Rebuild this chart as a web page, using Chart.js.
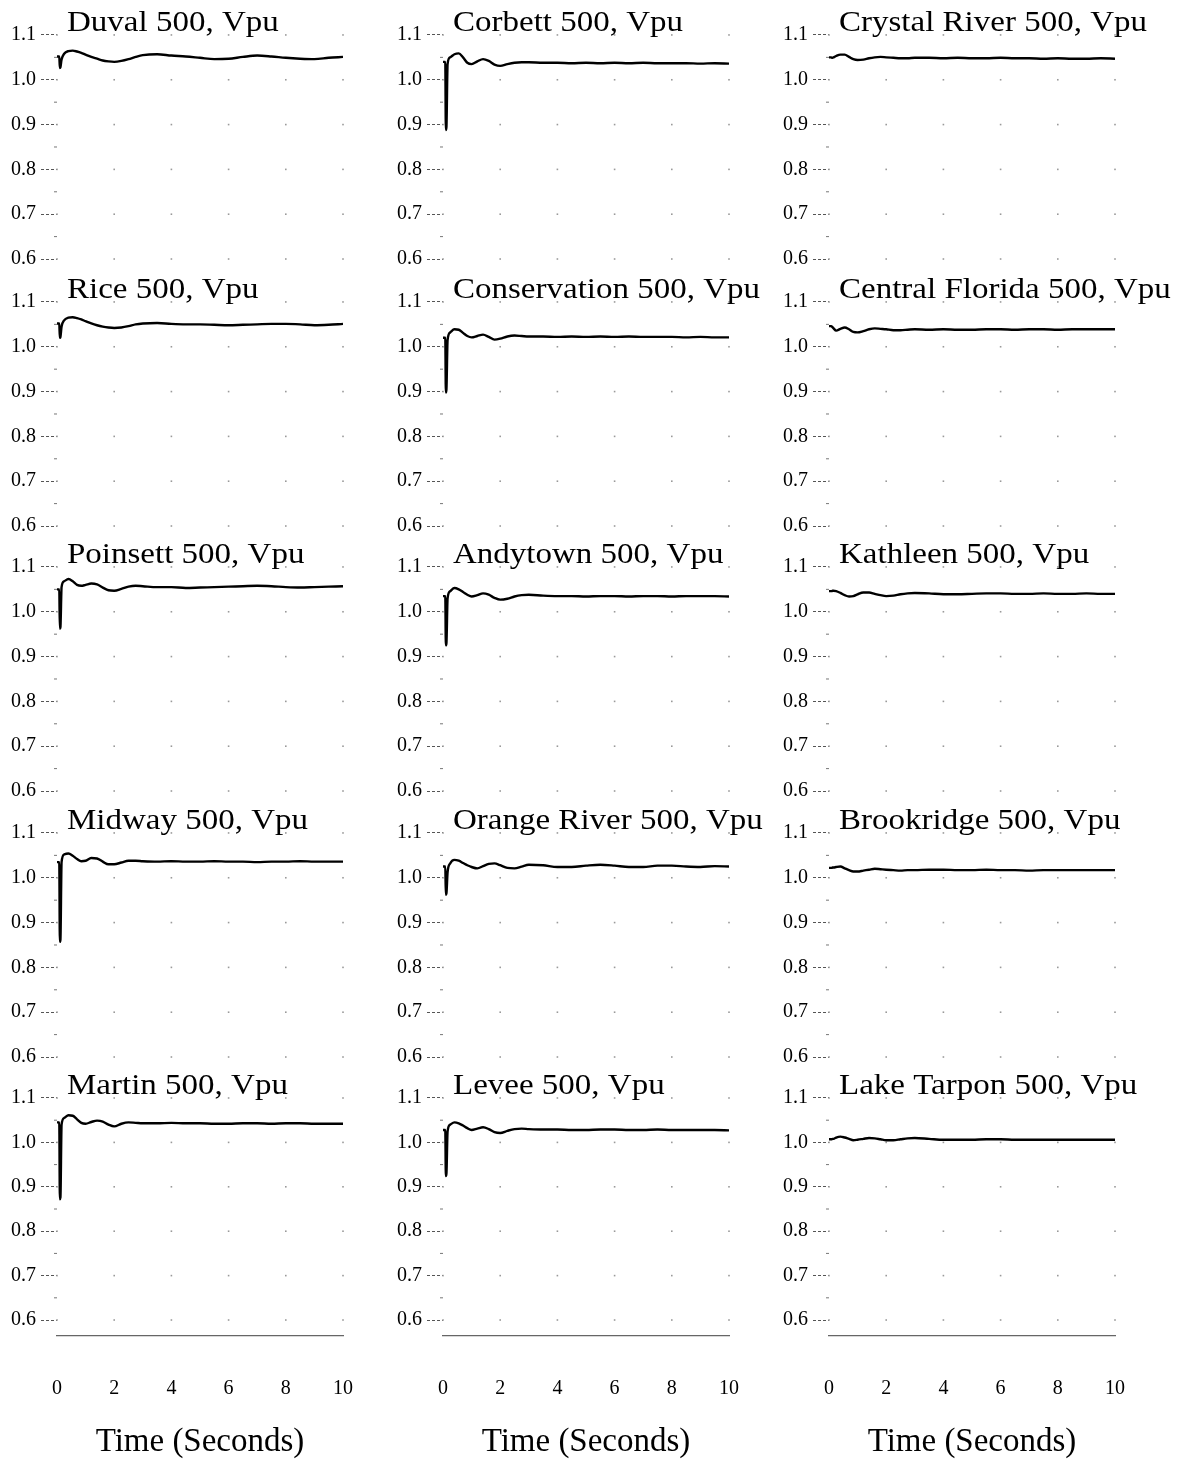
<!DOCTYPE html>
<html>
<head>
<meta charset="utf-8">
<title>500 kV bus voltages</title>
<script src="https://cdn.jsdelivr.net/npm/chart.js@4.4.0/dist/chart.umd.min.js"></script>
<style>
    body { margin: 0; background: #fff; }
    #page { position: relative; width: 1185px; height: 1459px; overflow: hidden; background: #fff; }
    .panel { position: absolute; }
</style>
</head>
<body>
<div id="page"></div>
<script>
// sample times (s), shared by every station trace
var timeSeconds = [0, 0.08, 0.1, 0.12, 0.16, 0.25, 0.4, 0.55, 0.7, 0.85, 1.0, 1.2, 1.4, 1.6, 1.8, 2.0, 2.25, 2.5, 2.75, 3.0, 3.5, 4.0, 4.5, 5.0, 5.5, 6.0, 6.5, 7.0, 7.5, 8.0, 8.5, 9.0, 9.5, 10];

var yTickValues = [0.6, 0.7, 0.8, 0.9, 1.0, 1.1];
var yMinorValues = [0.65, 0.75, 0.85, 0.95, 1.05];
var xTickValues = [0, 2, 4, 6, 8, 10];

var stationNames = [
    'Duval 500, Vpu', 'Corbett 500, Vpu', 'Crystal River 500, Vpu',
    'Rice 500, Vpu', 'Conservation 500, Vpu', 'Central Florida 500, Vpu',
    'Poinsett 500, Vpu', 'Andytown 500, Vpu', 'Kathleen 500, Vpu',
    'Midway 500, Vpu', 'Orange River 500, Vpu', 'Brookridge 500, Vpu',
    'Martin 500, Vpu', 'Levee 500, Vpu', 'Lake Tarpon 500, Vpu'
];

// voltage (pu) at each of timeSeconds
var duval = [1.052, 1.052, 1.026, 1.028, 1.045, 1.058, 1.064, 1.065, 1.063, 1.060, 1.056, 1.051, 1.047, 1.043, 1.041, 1.040, 1.042, 1.046, 1.051, 1.055, 1.057, 1.054, 1.052, 1.049, 1.046, 1.047, 1.051, 1.054, 1.052, 1.049, 1.047, 1.046, 1.049, 1.051];
var corbett = [1.040, 1.040, 0.888, 0.895, 1.035, 1.050, 1.057, 1.059, 1.050, 1.038, 1.035, 1.041, 1.046, 1.042, 1.034, 1.031, 1.035, 1.038, 1.039, 1.039, 1.038, 1.038, 1.037, 1.038, 1.037, 1.038, 1.037, 1.038, 1.037, 1.037, 1.037, 1.036, 1.037, 1.036];
var crystalRiver = [1.050, 1.050, 1.049, 1.049, 1.050, 1.053, 1.056, 1.056, 1.051, 1.046, 1.044, 1.045, 1.048, 1.050, 1.051, 1.050, 1.049, 1.048, 1.048, 1.049, 1.049, 1.048, 1.049, 1.048, 1.048, 1.049, 1.048, 1.048, 1.047, 1.048, 1.047, 1.047, 1.048, 1.047];
var rice = [1.052, 1.052, 1.020, 1.022, 1.045, 1.059, 1.065, 1.066, 1.064, 1.061, 1.057, 1.052, 1.048, 1.045, 1.043, 1.042, 1.043, 1.046, 1.050, 1.052, 1.053, 1.051, 1.050, 1.050, 1.049, 1.048, 1.049, 1.050, 1.051, 1.051, 1.050, 1.048, 1.049, 1.051];
var conservation = [1.020, 1.020, 0.898, 0.905, 1.015, 1.032, 1.039, 1.038, 1.031, 1.024, 1.021, 1.024, 1.027, 1.022, 1.016, 1.018, 1.023, 1.025, 1.024, 1.023, 1.023, 1.022, 1.023, 1.022, 1.023, 1.022, 1.023, 1.022, 1.022, 1.022, 1.021, 1.022, 1.021, 1.021];
var centralFlorida = [1.046, 1.046, 1.045, 1.044, 1.041, 1.036, 1.040, 1.043, 1.039, 1.033, 1.032, 1.035, 1.039, 1.041, 1.040, 1.039, 1.037, 1.037, 1.038, 1.039, 1.038, 1.039, 1.038, 1.038, 1.039, 1.039, 1.038, 1.039, 1.039, 1.038, 1.039, 1.039, 1.039, 1.039];
var poinsett = [1.050, 1.050, 0.962, 0.966, 1.055, 1.068, 1.073, 1.068, 1.060, 1.058, 1.060, 1.063, 1.061, 1.054, 1.048, 1.047, 1.051, 1.056, 1.058, 1.057, 1.055, 1.055, 1.053, 1.054, 1.055, 1.056, 1.057, 1.058, 1.057, 1.055, 1.054, 1.055, 1.056, 1.057];
var andytown = [1.035, 1.035, 0.925, 0.930, 1.030, 1.046, 1.053, 1.050, 1.044, 1.038, 1.034, 1.037, 1.041, 1.038, 1.031, 1.027, 1.029, 1.034, 1.037, 1.038, 1.036, 1.035, 1.035, 1.034, 1.035, 1.035, 1.034, 1.035, 1.035, 1.034, 1.035, 1.035, 1.035, 1.034];
var kathleen = [1.046, 1.046, 1.046, 1.047, 1.047, 1.046, 1.042, 1.037, 1.034, 1.035, 1.039, 1.043, 1.043, 1.040, 1.037, 1.035, 1.036, 1.039, 1.041, 1.042, 1.041, 1.039, 1.039, 1.040, 1.041, 1.041, 1.040, 1.040, 1.041, 1.040, 1.040, 1.041, 1.040, 1.040];
var midway = [1.035, 1.035, 0.857, 0.862, 1.035, 1.052, 1.054, 1.049, 1.042, 1.037, 1.038, 1.044, 1.043, 1.036, 1.030, 1.030, 1.034, 1.038, 1.038, 1.037, 1.036, 1.037, 1.036, 1.036, 1.037, 1.036, 1.036, 1.035, 1.036, 1.036, 1.037, 1.036, 1.036, 1.036];
var orangeRiver = [1.025, 1.025, 0.962, 0.965, 1.012, 1.032, 1.040, 1.038, 1.033, 1.028, 1.024, 1.021, 1.026, 1.031, 1.032, 1.028, 1.022, 1.021, 1.025, 1.029, 1.028, 1.024, 1.024, 1.027, 1.029, 1.027, 1.024, 1.024, 1.027, 1.027, 1.025, 1.024, 1.026, 1.025];
var brookridge = [1.022, 1.022, 1.022, 1.023, 1.023, 1.024, 1.025, 1.021, 1.017, 1.014, 1.014, 1.016, 1.018, 1.020, 1.019, 1.018, 1.017, 1.016, 1.017, 1.017, 1.018, 1.018, 1.017, 1.017, 1.018, 1.017, 1.017, 1.016, 1.017, 1.017, 1.017, 1.017, 1.017, 1.017];
var martin = [1.045, 1.045, 0.872, 0.876, 1.040, 1.055, 1.061, 1.060, 1.052, 1.044, 1.042, 1.046, 1.049, 1.047, 1.040, 1.036, 1.042, 1.045, 1.044, 1.043, 1.043, 1.044, 1.043, 1.043, 1.042, 1.042, 1.043, 1.043, 1.042, 1.043, 1.043, 1.042, 1.042, 1.042];
var levee = [1.028, 1.028, 0.924, 0.930, 1.025, 1.040, 1.045, 1.043, 1.038, 1.032, 1.028, 1.031, 1.034, 1.030, 1.023, 1.021, 1.026, 1.030, 1.031, 1.030, 1.029, 1.029, 1.028, 1.028, 1.029, 1.029, 1.028, 1.028, 1.029, 1.028, 1.028, 1.028, 1.028, 1.027];
var lakeTarpon = [1.007, 1.007, 1.007, 1.008, 1.008, 1.011, 1.013, 1.011, 1.008, 1.005, 1.006, 1.008, 1.010, 1.009, 1.007, 1.005, 1.005, 1.007, 1.009, 1.010, 1.008, 1.006, 1.006, 1.006, 1.007, 1.007, 1.006, 1.006, 1.006, 1.006, 1.006, 1.006, 1.006, 1.006];

var stationValues = [duval, corbett, crystalRiver, rice, conservation, centralFlorida,
    poinsett, andytown, kathleen, midway, orangeRiver, brookridge, martin, levee, lakeTarpon];

var SERIF = '"Liberation Serif", "Times New Roman", serif';
Chart.defaults.font.family = SERIF;
Chart.defaults.color = '#000';

var colLeft = [0, 386, 772];
var colWidth = [386, 386, 413];
var rowTop = [0, 267, 532, 798, 1063];
var AXIS_W = 57, PLOT_W = 286;

// grid dots, minor ticks and the station name inside the plot
var panelDecor = {
    id: 'panelDecor',
    beforeDatasetsDraw: function (chart) {
        var ctx = chart.ctx;
        var xs = chart.scales.x, ys = chart.scales.y;
        ctx.save();
        ctx.fillStyle = '#9a9a9a';
        xTickValues.forEach(function (t) {
            yTickValues.forEach(function (v) {
                ctx.fillRect(xs.getPixelForValue(t) - 0.8, ys.getPixelForValue(v) - 0.8, 1.6, 1.6);
            });
        });
        ctx.fillStyle = '#777';
        yMinorValues.forEach(function (v) {
            ctx.fillRect(chart.chartArea.left - 3, ys.getPixelForValue(v) - 0.5, 3, 1);
        });
        ctx.restore();
    },
    afterDraw: function (chart, args, opts) {
        var ctx = chart.ctx;
        ctx.save();
        ctx.font = '30px ' + SERIF;
        ctx.fillStyle = '#000';
        ctx.textBaseline = 'alphabetic';
        ctx.translate(chart.chartArea.left + 10, chart.scales.y.getPixelForValue(1.1) - 4);
        ctx.scale(1.1, 1);
        ctx.fillText(opts.text, 0, 0);
        ctx.restore();
    }
};

var makePanel = function (i) {
    var col = i % 3, row = Math.floor(i / 3);
    var bottomRow = row === 4;
    var w = colWidth[col];
    var h = bottomRow ? 396 : 266;

    var box = document.createElement('div');
    box.className = 'panel';
    box.style.left = colLeft[col] + 'px';
    box.style.top = rowTop[row] + 'px';
    var canvas = document.createElement('canvas');
    canvas.width = w;
    canvas.height = h;
    canvas.style.width = w + 'px';
    canvas.style.height = h + 'px';
    box.appendChild(canvas);
    document.getElementById('page').appendChild(box);

    var points = [];
    timeSeconds.forEach(function (t, k) {
        points.push({x: t, y: stationValues[i][k]});
    });

    new Chart(canvas.getContext('2d'), {
        type: 'line',
        data: {
            datasets: [{
                data: points,
                borderColor: '#000',
                borderWidth: 2.4,
                pointRadius: 0,
                cubicInterpolationMode: 'monotone',
                fill: false
            }]
        },
        options: {
            responsive: false,
            animation: false,
            events: [],
            layout: {autoPadding: false, padding: {left: 0, top: 0, bottom: 0, right: w - AXIS_W - PLOT_W}},
            plugins: {
                legend: {display: false},
                tooltip: {enabled: false},
                panelDecor: {text: stationNames[i]}
            },
            scales: {
                x: {
                    type: 'linear',
                    min: 0,
                    max: 10,
                    display: bottomRow,
                    afterBuildTicks: function (axis) {
                        axis.ticks = xTickValues.map(function (v) { return {value: v}; });
                    },
                    afterFit: function (scale) {
                        scale.height = bottomRow ? 123 : 0;
                        scale.paddingLeft = 0;
                        scale.paddingRight = 0;
                    },
                    ticks: {font: {size: 20}, color: '#000', padding: 41, maxRotation: 0, autoSkip: false},
                    grid: {drawOnChartArea: false, drawTicks: false},
                    border: {display: true, color: '#666', width: 1.2},
                    title: {
                        display: true,
                        text: 'Time (Seconds)',
                        font: {size: 33, lineHeight: 1},
                        color: '#000',
                        padding: {top: 0, bottom: 0}
                    }
                },
                y: {
                    type: 'linear',
                    min: bottomRow ? 0.564 : 0.5844,
                    max: bottomRow ? 1.1788 : 1.178,
                    afterBuildTicks: function (axis) {
                        axis.ticks = yTickValues.map(function (v) { return {value: v}; });
                    },
                    afterFit: function (scale) {
                        scale.width = AXIS_W;
                        scale.paddingTop = 0;
                        scale.paddingBottom = 0;
                    },
                    ticks: {
                        font: {size: 20},
                        color: '#000',
                        padding: 5,
                        autoSkip: false,
                        callback: function (v) { return Number(v).toFixed(1); }
                    },
                    grid: {
                        drawOnChartArea: false,
                        drawTicks: true,
                        tickLength: 16,
                        tickColor: '#555',
                        tickWidth: 1,
                        tickBorderDash: [3, 2]
                    },
                    border: {display: false}
                }
            }
        },
        plugins: [panelDecor]
    });
};

for (var i = 0; i < stationNames.length; i++) {
    makePanel(i);
}
</script>
</body>
</html>
